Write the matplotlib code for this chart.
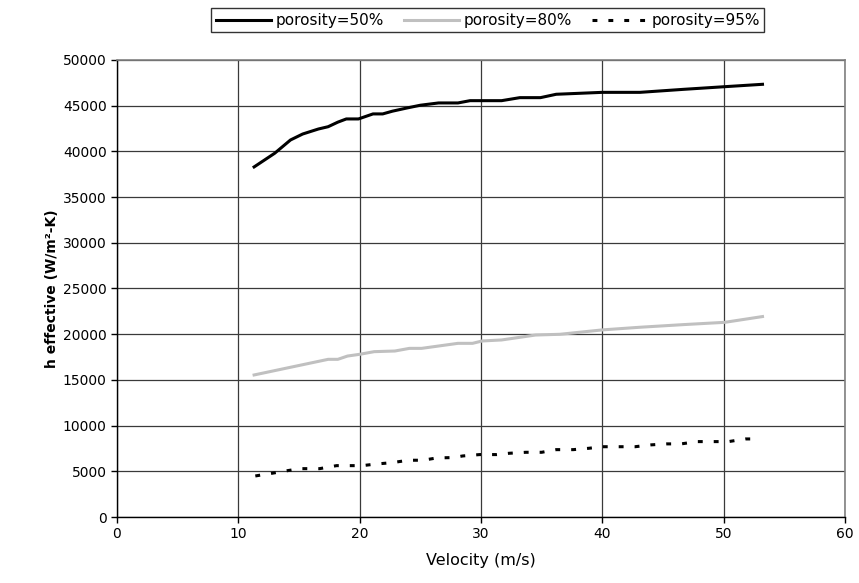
import matplotlib
matplotlib.use("Agg")
import matplotlib.pyplot as plt

# porosity = 50%
v50 = [11.3, 13.0, 14.3, 15.3, 16.6, 17.4, 18.2, 18.9, 19.9, 21.1, 21.9, 22.7,
       23.9, 25.0, 26.5, 28.1, 29.1, 31.7, 33.2, 34.9, 36.2, 40.0, 43.1, 46.7,
       50.1, 53.2]
h50 = [38300, 39800, 41250, 41900, 42450, 42700, 43200, 43550, 43550, 44100,
       44100, 44400, 44750, 45050, 45300, 45300, 45550, 45550, 45880, 45880,
       46250, 46460, 46460, 46790, 47080, 47340]

# porosity = 80%
v80 = [11.3, 17.4, 18.2, 19.0, 20.0, 21.2, 22.9, 24.1, 25.1, 28.1, 29.3, 30.1,
       31.7, 34.5, 36.5, 40.0, 43.1, 46.7, 50.1, 53.2]
h80 = [15540, 17250, 17250, 17610, 17800, 18090, 18160, 18450, 18450, 19000,
       19000, 19260, 19370, 19910, 19990, 20470, 20760, 21050, 21300, 21930]

# porosity = 95%
v95 = [11.4, 12.75, 13.9, 15.1, 16.7, 18.1, 20.2, 21.4, 22.7, 24.0, 25.2, 26.4,
       27.7, 28.5, 29.9, 31.3, 32.3, 33.7, 35.0, 36.2, 37.6, 38.9, 40.0, 42.7,
       44.0, 45.3, 46.5, 47.8, 50.4, 51.8, 53.0]
h95 = [4490, 4780, 5040, 5290, 5290, 5620, 5620, 5800, 5950, 6210, 6210, 6470,
       6500, 6680, 6830, 6830, 6970, 7080, 7080, 7370, 7370, 7520, 7690, 7690,
       7890, 8000, 8000, 8250, 8250, 8540, 8540]

labels = ["porosity=50%", "porosity=80%", "porosity=95%"]
xticks = [0, 10, 20, 30, 40, 50, 60]
yticks = list(range(0, 50001, 5000))

plt.rcParams['font.family'] = ['DejaVu Sans']
fig = plt.figure(figsize=(8.59, 5.83), dpi=100)
ax = fig.add_axes([0.1362, 0.1132, 0.8475, 0.7839])

ax.plot(v50, h50, color='black', lw=2.2, label=labels[0], zorder=3)
ax.plot(v80, h80, color='#c0c0c0', lw=2.2, label=labels[1], zorder=3)
ax.plot(v95, h95, color='black', lw=2.2, linestyle=(0, (1.6, 3.6)),
        label=labels[2], zorder=3)

ax.set_xlim(0, 60)
ax.set_ylim(0, 50000)
ax.set_xticks(xticks)
ax.set_yticks(yticks)
ax.tick_params(direction='out', length=4, width=1, labelsize=10, color='black')
ax.grid(True, color='#3a3a3a', lw=0.9)
ax.set_axisbelow(True)
for s in ['top', 'right']:
    ax.spines[s].set_color('#808080')
    ax.spines[s].set_linewidth(1.2)
for s in ['left', 'bottom']:
    ax.spines[s].set_color('black')
    ax.spines[s].set_linewidth(1.0)

ax.set_xlabel("Velocity (m/s)", fontsize=11.5, labelpad=8)
ax.set_ylabel("h effective (W/m²-K)", fontsize=10, fontweight='bold', labelpad=3)

leg = fig.legend(loc='center', bbox_to_anchor=(0.568, 0.965), ncol=3,
                 fontsize=11, frameon=True, fancybox=False, edgecolor='black',
                 handlelength=3.6, handletextpad=0.3, columnspacing=1.3,
                 borderpad=0.3)
leg.get_frame().set_linewidth(1.0)

fig.savefig("out.png", dpi=100)
